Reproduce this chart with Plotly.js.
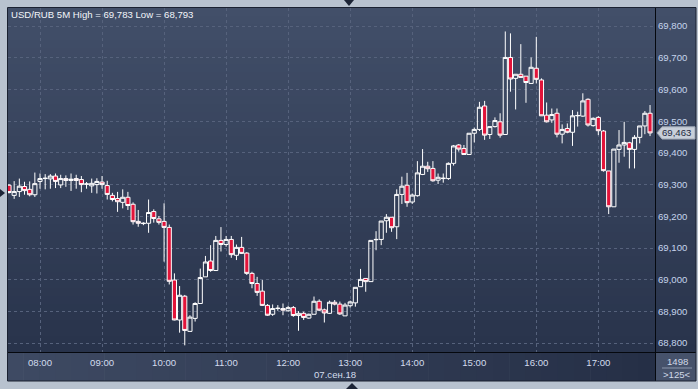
<!DOCTYPE html>
<html><head><meta charset="utf-8">
<script src="https://cdn.plot.ly/plotly-3.0.1.min.js"></script>
<style>html,body{margin:0;padding:0;background:#b8c2cf;overflow:hidden}#chart{width:698px;height:389px}</style>
</head><body><div id="chart"></div>
<script>
const sessionDate = '2018-09-07';
const times = [
'07:30','07:35','07:40','07:45','07:50','07:55',
'08:00','08:05','08:10','08:15','08:20','08:25','08:30','08:35','08:40','08:45','08:50','08:55',
'09:00','09:05','09:10','09:15','09:20','09:25','09:30','09:35','09:40','09:45','09:50','09:55',
'10:00','10:05','10:10','10:15','10:20','10:25','10:30','10:35','10:40','10:45','10:50','10:55',
'11:00','11:05','11:10','11:15','11:20','11:25','11:30','11:35','11:40','11:45','11:50','11:55',
'12:00','12:05','12:10','12:15','12:20','12:25','12:30','12:35','12:40','12:45','12:50','12:55',
'13:00','13:05','13:10','13:15','13:20','13:25','13:30','13:35','13:40','13:45','13:50','13:55',
'14:00','14:05','14:10','14:15','14:20','14:25','14:30','14:35','14:40','14:45','14:50','14:55',
'15:00','15:05','15:10','15:15','15:20','15:25','15:30','15:35','15:40','15:45','15:50','15:55',
'16:00','16:05','16:10','16:15','16:20','16:25','16:30','16:35','16:40','16:45','16:50','16:55',
'17:00','17:05','17:10','17:15','17:20','17:25','17:30','17:35','17:40','17:45','17:50'];
const open = [
69.298,69.266,69.278,69.294,69.285,69.268,
69.310,69.319,69.318,69.327,69.299,69.319,69.313,69.319,69.316,69.301,69.296,69.300,
69.308,69.297,69.266,69.256,69.244,69.260,69.238,69.184,69.177,69.178,69.215,69.192,
69.184,69.165,68.999,68.873,68.948,68.837,68.878,68.925,69.009,69.059,69.029,69.124,
69.111,69.127,69.077,69.102,69.084,69.020,68.988,68.964,68.919,68.891,68.909,68.909,
68.902,68.912,68.887,68.894,68.879,68.891,68.932,68.905,68.894,68.929,68.923,68.886,
68.918,68.927,68.978,69.004,68.994,69.126,69.127,69.186,69.197,69.167,69.269,69.298,
69.245,69.265,69.332,69.358,69.351,69.314,69.319,69.319,69.367,69.425,69.414,69.395,
69.462,69.474,69.548,69.458,69.483,69.498,69.458,69.701,69.635,69.648,69.642,69.619,
69.667,69.630,69.519,69.504,69.525,69.459,69.477,69.465,69.517,69.516,69.569,69.486,
69.512,69.469,69.343,69.230,69.411,69.425,69.432,69.411,69.449,69.485,69.525];
const high = [
69.302,69.311,69.319,69.309,69.310,69.338,
69.335,69.333,69.333,69.335,69.331,69.329,69.335,69.331,69.327,69.308,69.319,69.320,
69.327,69.312,69.274,69.277,69.285,69.277,69.244,69.220,69.181,69.253,69.222,69.201,
69.241,69.174,69.020,68.980,68.952,68.888,68.929,69.035,69.075,69.109,69.138,69.166,
69.138,69.138,69.111,69.135,69.087,69.025,69.009,68.999,68.923,68.922,68.920,68.925,
68.918,68.917,68.901,68.899,68.893,68.947,68.938,68.909,68.934,68.936,68.931,68.927,
68.934,68.976,69.034,69.004,69.124,69.153,69.185,69.207,69.197,69.285,69.325,69.337,
69.272,69.374,69.412,69.372,69.374,69.335,69.335,69.370,69.425,69.428,69.425,69.462,
69.480,69.561,69.564,69.483,69.512,69.525,69.783,69.777,69.648,69.743,69.642,69.701,
69.766,69.635,69.559,69.540,69.540,69.490,69.493,69.535,69.530,69.588,69.572,69.512,
69.516,69.472,69.343,69.412,69.472,69.498,69.435,69.456,69.485,69.532,69.551];
const low = [
69.272,69.255,69.261,69.268,69.263,69.261,
69.287,69.285,69.287,69.289,69.289,69.293,69.280,69.287,69.276,69.287,69.274,69.272,
69.287,69.253,69.247,69.214,69.225,69.220,69.174,69.167,69.172,69.148,69.180,69.174,
69.057,68.985,68.872,68.833,68.793,68.836,68.868,68.925,69.009,69.025,69.029,69.089,
69.104,69.069,69.062,69.081,69.015,68.973,68.949,68.917,68.886,68.886,68.902,68.888,
68.899,68.883,68.839,68.873,68.877,68.891,68.901,68.865,68.892,68.919,68.889,68.886,
68.912,68.915,68.978,68.962,68.994,69.093,69.109,69.148,69.151,69.128,69.239,69.230,
69.239,69.262,69.330,69.340,69.309,69.302,69.306,69.315,69.360,69.404,69.395,69.395,
69.433,69.469,69.441,69.444,69.480,69.448,69.458,69.593,69.537,69.638,69.558,69.619,
69.619,69.517,69.496,69.495,69.449,69.430,69.462,69.422,69.483,69.514,69.483,69.483,
69.456,69.341,69.207,69.230,69.369,69.388,69.351,69.351,69.430,69.459,69.453];
const close = [
69.275,69.278,69.295,69.281,69.268,69.303,
69.319,69.320,69.327,69.310,69.319,69.313,69.317,69.313,69.300,69.302,69.304,69.310,
69.300,69.269,69.253,69.246,69.260,69.234,69.183,69.178,69.178,69.212,69.193,69.181,
69.165,68.995,68.873,68.951,68.840,68.882,68.925,69.007,69.056,69.029,69.124,69.111,
69.127,69.079,69.102,69.083,69.020,68.988,68.960,68.919,68.888,68.909,68.910,68.904,
68.912,68.887,68.894,68.881,68.891,68.932,68.904,68.895,68.929,68.923,68.892,68.920,
68.930,68.976,69.001,68.994,69.124,69.127,69.185,69.197,69.164,69.269,69.295,69.243,
69.267,69.337,69.358,69.350,69.312,69.323,69.320,69.367,69.422,69.412,69.395,69.462,
69.474,69.544,69.456,69.483,69.502,69.456,69.701,69.633,69.648,69.638,69.622,69.670,
69.632,69.517,69.498,69.521,69.459,69.474,69.465,69.517,69.518,69.564,69.488,69.509,
69.470,69.344,69.230,69.412,69.425,69.433,69.411,69.449,69.485,69.525,69.463];
const hourTicks = ['08:00','09:00','10:00','11:00','12:00','13:00','14:00','15:00','16:00','17:00'];
const priceTicks = [68.8,68.9,69.0,69.1,69.2,69.3,69.4,69.5,69.6,69.7,69.8];
const titleText = 'USD/RUB 5M High = 69,783 Low = 68,793';
const dateLabel = '07.сен.18';
const lastPrice = 69.463;
const lastPriceLabel = '69,463';
const volumeLabel = '1498';
const countLabel = '>125<';

const FONT = 'Liberation Sans, Arial, sans-serif';
const W = 698, H = 389, L = 8, R = 655, T = 8, B = 352;
const px = x => (x - L) / (R - L);
const py = y => (B - y) / (B - T);
const d = t => sessionDate + ' ' + t;

function hex(c){return '#'+c.map(v=>Math.round(v).toString(16).padStart(2,'0')).join('');}
function mix(a,b,f){return a.map((v,i)=>v+(b[i]-v)*f);}

const shapes = [];
// vertical gradient for plot + right scale
const topC=[66,79,105], botC=[40,51,75];
const NB=43;
for(let i=0;i<NB;i++){
  const y0=T+(B-T)*i/NB, y1=T+(B-T)*(i+1)/NB+0.6;
  shapes.push({type:'rect',xref:'paper',yref:'paper',layer:'below',x0:px(7),x1:px(696),y0:py(y0),y1:py(y1),
    fillcolor:hex(mix(topC,botC,(i+0.5)/NB)),line:{width:0}});
}
// horizontal gradient for time strip
const lC=[62,74,99], rC=[37,47,70];
const NS=40;
for(let i=0;i<NS;i++){
  const x0=7+(R-7)*i/NS, x1=7+(R-7)*(i+1)/NS+0.6;
  shapes.push({type:'rect',xref:'paper',yref:'paper',layer:'below',x0:px(x0),x1:px(x1),y0:py(B),y1:py(381),
    fillcolor:hex(mix(lC,rC,(i+0.5)/NS)),line:{width:0}});
}
// corner cell
shapes.push({type:'rect',xref:'paper',yref:'paper',layer:'below',x0:px(R),x1:px(696),y0:py(B),y1:py(381),fillcolor:'#46526b',line:{width:0}});
shapes.push({type:'line',xref:'paper',yref:'paper',layer:'below',x0:px(662),x1:px(692),y0:py(368),y1:py(368),line:{color:'#8a96ac',width:1}});
// separators
shapes.push({type:'line',xref:'paper',yref:'paper',layer:'above',x0:px(R+0.5),x1:px(R+0.5),y0:py(T),y1:py(381),line:{color:'#05080e',width:1}});
shapes.push({type:'line',xref:'paper',yref:'paper',layer:'above',x0:px(7),x1:px(696),y0:py(B+0.5),y1:py(B+0.5),line:{color:'#05080e',width:1}});
// outer border
shapes.push({type:'rect',xref:'paper',yref:'paper',layer:'above',x0:px(7.5),x1:px(696),y0:py(7.5),y1:py(381),line:{color:'#1a2131',width:1},fillcolor:'rgba(0,0,0,0)'});
// small triangles on frame
shapes.push({type:'path',xref:'paper',yref:'paper',layer:'above',
  path:`M ${px(344)},${py(0)} L ${px(354)},${py(0)} L ${px(349)},${py(6)} Z`,fillcolor:'#1c2436',line:{width:0}});
shapes.push({type:'path',xref:'paper',yref:'paper',layer:'above',
  path:`M ${px(346)},${py(389)} L ${px(358)},${py(389)} L ${px(352)},${py(383)} Z`,fillcolor:'#1c2436',line:{width:0}});
shapes.push({type:'path',xref:'paper',yref:'paper',layer:'above',
  path:`M ${px(0)},${py(189)} L ${px(0)},${py(197)} L ${px(5)},${py(193)} Z`,fillcolor:'#1c2436',line:{width:0}});
// last price tag
const hh = 0.0194;
shapes.push({type:'path',xref:'paper',yref:'y',layer:'above',
  path:`M ${px(657)},${lastPrice} L ${px(662)},${lastPrice-hh} L ${px(695)},${lastPrice-hh} L ${px(695)},${lastPrice+hh} L ${px(662)},${lastPrice+hh} Z`,
  fillcolor:'#c8cfd9',line:{color:'#9aa3b2',width:1}});

const annotations = [
  {text:titleText,xref:'paper',yref:'paper',x:px(9),y:py(14),xanchor:'left',yanchor:'middle',showarrow:false,
   font:{family:FONT,size:9.6,color:'#f2f5fa'}},
  {text:dateLabel,xref:'paper',yref:'paper',x:px(335),y:py(374),xanchor:'center',yanchor:'middle',showarrow:false,
   font:{family:FONT,size:9.6,color:'#d3dced'}},
  {text:lastPriceLabel,xref:'paper',yref:'y',x:px(660),y:lastPrice,xanchor:'left',yanchor:'middle',showarrow:false,
   font:{family:FONT,size:9.6,color:'#1d2940'}},
  {text:volumeLabel,xref:'paper',yref:'paper',x:px(677),y:py(361.5),xanchor:'center',yanchor:'middle',showarrow:false,
   font:{family:FONT,size:9.6,color:'#d0d9e8'}},
  {text:countLabel,xref:'paper',yref:'paper',x:px(677),y:py(374),xanchor:'center',yanchor:'middle',showarrow:false,
   font:{family:FONT,size:9.6,color:'#d0d9e8'}}
];

const trace = {
  type:'candlestick',
  x: times.map(d), open, high, low, close,
  increasing:{line:{color:'#ffffff',width:1},fillcolor:'rgba(0,0,0,0)'},
  decreasing:{line:{color:'#ffffff',width:1},fillcolor:'#e2143a'},
  whiskerwidth:0, hoverinfo:'skip', showlegend:false
};

const layout = {
  width:W,height:H,
  margin:{l:L,r:W-R,t:T,b:H-B,pad:0},
  paper_bgcolor:'#b8c2cf',plot_bgcolor:'rgba(0,0,0,0)',
  separators:', ',
  boxgap:0.2, boxgroupgap:0,
  showlegend:false,
  xaxis:{type:'date',range:[d('07:29:02'),d('17:54:48')],
    tickvals:hourTicks.map(d),ticktext:hourTicks,
    showgrid:true,gridcolor:'#56627c',griddash:'dot',gridwidth:1,
    ticks:'',showline:false,zeroline:false,ticklabelstandoff:3,
    tickfont:{family:FONT,size:9.6,color:'#d3dced'},
    rangeslider:{visible:false},fixedrange:true},
  yaxis:{side:'right',range:[68.772,69.857],tickvals:priceTicks,tickformat:'.3f',
    showgrid:true,gridcolor:'#56627c',griddash:'dot',gridwidth:1,
    ticks:'',showline:false,zeroline:false,ticklabelstandoff:2,
    tickfont:{family:FONT,size:9.6,color:'#c6d4ec'},fixedrange:true},
  shapes, annotations
};

Plotly.newPlot('chart',[trace],layout,{staticPlot:true,displayModeBar:false});
</script></body></html>
